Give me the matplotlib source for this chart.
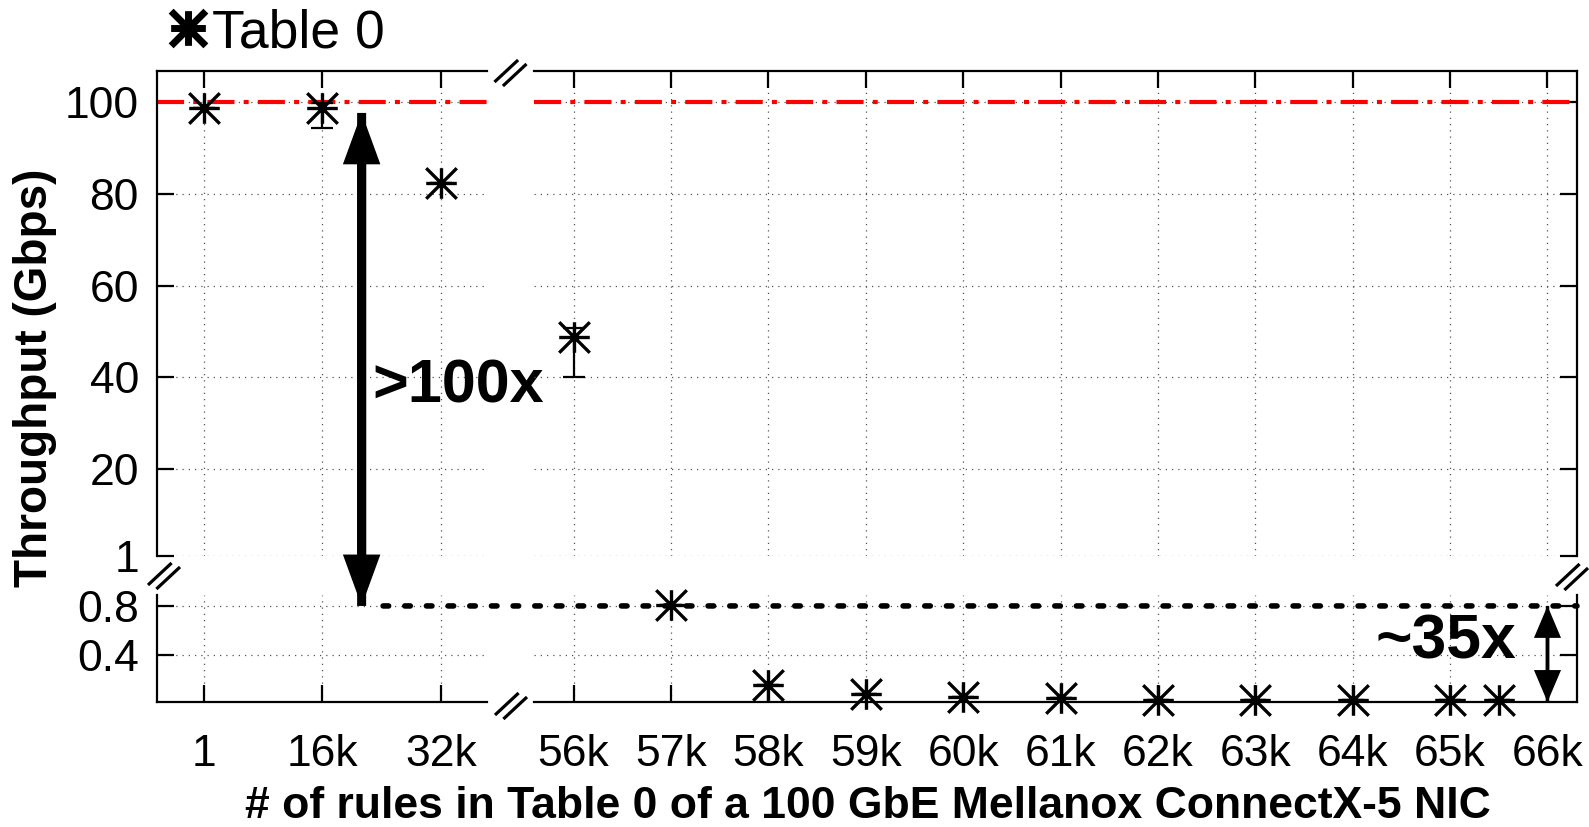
import numpy as np
import matplotlib
matplotlib.use('Agg')
import matplotlib.pyplot as plt
from matplotlib.path import Path
from matplotlib.patches import ConnectionPatch, ArrowStyle
from matplotlib.lines import Line2D

plt.rcParams['font.family'] = ['Liberation Sans', 'DejaVu Sans']

# ---------------- data (x in thousands of rules) ----------------
left_x = [0.001, 16, 32]
left_ticklabels = ['1', '16k', '32k']
left_y = [98.8, 98.8, 82.3]
left_err_lo = [0.0, 4.4, 0.0]
left_err_hi = [0.0, 1.0, 0.0]

right_x = [56, 57, 58, 59, 60, 61, 62, 63, 64, 65, 65.5]
right_y = [48.7, 0.81, 0.15, 0.078, 0.054, 0.043, 0.03, 0.025, 0.023, 0.023, 0.023]
right_err_lo = [8.7, 0, 0, 0, 0, 0, 0, 0, 0, 0, 0]
right_err_hi = [2.0, 0, 0, 0, 0, 0, 0, 0, 0, 0, 0]
right_ticks = [56, 57, 58, 59, 60, 61, 62, 63, 64, 65, 66]
right_ticklabels = ['56k', '57k', '58k', '59k', '60k', '61k', '62k', '63k',
                    '64k', '65k', '66k']

upper_yticks = [1, 20, 40, 60, 80, 100]
lower_yticks = [0.4, 0.8]
line_rate = 100
knee_level = 0.8

# ---------------- figure / axes layout ----------------
W, H = 1589, 827
fig = plt.figure(figsize=(W / 100, H / 100), dpi=100)


def rect(x0, x1, ytop, ybot):
    return [x0 / W, 1 - ybot / H, (x1 - x0) / W, (ybot - ytop) / H]


ax_ul = fig.add_axes(rect(157, 487, 71, 556))
ax_ur = fig.add_axes(rect(534, 1577, 71, 556))
ax_ll = fig.add_axes(rect(157, 487, 595, 702))
ax_lr = fig.add_axes(rect(534, 1577, 595, 702))

LX = (-6.35, 38.24)
RX = (55.593, 66.303)
UY = (1, 106.85)
LY = (0.01, 0.89)

for ax, xl, yl in [(ax_ul, LX, UY), (ax_ur, RX, UY), (ax_ll, LX, LY), (ax_lr, RX, LY)]:
    ax.set_xlim(*xl)
    ax.set_ylim(*yl)
    ax.patch.set_visible(False)
    for s in ax.spines.values():
        s.set_linewidth(1.6)
    ax.grid(True, linestyle=(0, (1, 4)), linewidth=0.9, color='#555555')
    ax.set_axisbelow(True)
    ax.tick_params(direction='in', length=12, width=1.6, labelsize=32)
    ax.tick_params(axis='x', pad=23)
    ax.tick_params(axis='y', pad=13)

for ax in (ax_ul, ax_ll):
    ax.set_xticks(left_x)
    ax.set_xticklabels(left_ticklabels)
for ax in (ax_ur, ax_lr):
    ax.set_xticks(right_ticks)
    ax.set_xticklabels(right_ticklabels)
for ax in (ax_ul, ax_ur):
    ax.set_yticks(upper_yticks)
    ax.set_yticklabels([str(v) for v in upper_yticks])
for ax in (ax_ll, ax_lr):
    ax.set_yticks(lower_yticks)
    ax.set_yticklabels([str(v) for v in lower_yticks])

# spines and ticks per panel
ax_ul.spines[['right', 'bottom']].set_visible(False)
ax_ul.tick_params(axis='x', top=True, bottom=False, labelbottom=False)
ax_ul.tick_params(axis='y', left=True, right=False, labelleft=True)

ax_ur.spines[['left', 'bottom']].set_visible(False)
ax_ur.tick_params(axis='x', top=True, bottom=False, labelbottom=False)
ax_ur.tick_params(axis='y', left=False, right=True, labelleft=False)

ax_ll.spines[['right', 'top']].set_visible(False)
ax_ll.tick_params(axis='x', top=False, bottom=True, labelbottom=True)
ax_ll.tick_params(axis='y', left=True, right=False, labelleft=True)

ax_lr.spines[['left', 'top']].set_visible(False)
ax_lr.tick_params(axis='x', top=False, bottom=True, labelbottom=True)
ax_lr.tick_params(axis='y', left=False, right=True, labelleft=False)

# ---------------- marker ----------------
star = Path([(-1, 0), (1, 0), (0, -1), (0, 1), (-1, -1), (1, 1), (-1, 1), (1, -1)],
            [Path.MOVETO, Path.LINETO] * 4)
mk = dict(marker=star, ms=22, mew=2.4, color='black', ls='none')

# line-rate reference
dash_red = dict(color='red', lw=3.0, dashes=(6.5, 2.2, 1.2, 2.2))
ax_ul.axhline(line_rate, **dash_red, zorder=1.5)
ax_ur.axhline(line_rate, **dash_red, zorder=1.5)

# ---------------- data points ----------------
lx = np.array(left_x); ly = np.array(left_y)
rx = np.array(right_x); ry = np.array(right_y)
lel = np.array(left_err_lo); leh = np.array(left_err_hi)
rel = np.array(right_err_lo); reh = np.array(right_err_hi)

for ax, xs, ys, el, eh, upper in [(ax_ul, lx, ly, lel, leh, True), (ax_ur, rx, ry, rel, reh, True),
                                   (ax_ll, lx, ly, lel, leh, False), (ax_lr, rx, ry, rel, reh, False)]:
    m = ys >= 1 if upper else ys < 1
    if not m.any():
        continue
    ax.errorbar(xs[m], ys[m], yerr=[el[m], eh[m]], fmt='none', ecolor='black',
                elinewidth=1.6, capsize=8, capthick=1.6, zorder=3, clip_on=False)
    ax.plot(xs[m], ys[m], zorder=4, clip_on=False, **mk)

# ---------------- dotted knee line at 0.8 ----------------
knee = ConnectionPatch(xyA=(24.2, knee_level), coordsA='data', axesA=ax_ll,
                       xyB=(RX[1], knee_level), coordsB='data', axesB=ax_lr,
                       arrowstyle='-', color='black', lw=4.0,
                       linestyle=(0, (1, 2.9)), zorder=5)
fig.add_artist(knee)

# ---------------- big double arrow (>100x) ----------------
big_style = ArrowStyle.Simple(head_length=37, head_width=27, tail_width=6.5)
for (pA, axA), (pB, axB) in [(((21.3, knee_level), ax_ll), ((21.3, 97.7), ax_ul)),
                             (((21.3, 97.7), ax_ul), ((21.3, knee_level), ax_ll))]:
    c = ConnectionPatch(xyA=pA, coordsA='data', axesA=axA, xyB=pB, coordsB='data', axesB=axB,
                        arrowstyle=big_style, mutation_scale=1, fc='black', ec='black', lw=0,
                        zorder=6)
    fig.add_artist(c)

ax_ul.text(22.8, 34.4, '>100x', fontsize=44, fontweight='bold', ha='left', va='baseline',
           zorder=7)

# ---------------- small double arrow (~35x) ----------------
small_style = ArrowStyle.Simple(head_length=23, head_width=19.5, tail_width=2.5)
for yA, yB in [(knee_level, LY[0]), (LY[0], knee_level)]:
    c = ConnectionPatch(xyA=(66, yA), coordsA='data', axesA=ax_lr, xyB=(66, yB), coordsB='data',
                        axesB=ax_lr, arrowstyle=small_style, mutation_scale=1, fc='black',
                        ec='black', lw=0, zorder=6)
    fig.add_artist(c)

ax_lr.text(65.68, 0.37, '~35x', fontsize=45, fontweight='bold', ha='right', va='baseline', zorder=7)

# ---------------- break marks ----------------
def break_mark(cx, cy):
    for dx, dy in [(-4.2, -2.0), (4.2, 2.0)]:
        x0, y0 = cx + dx - 11.8, cy + dy + 11.0
        x1, y1 = cx + dx + 11.8, cy + dy - 11.0
        fig.add_artist(Line2D([x0 / W, x1 / W], [1 - y0 / H, 1 - y1 / H], color='black', lw=2.3,
                              transform=fig.transFigure, solid_capstyle='butt'))


break_mark(510.5, 73)
break_mark(511, 706)
break_mark(164, 576)
break_mark(1572, 577)

# ---------------- labels & legend ----------------
fig.text(35.5 / W, 1 - 378 / H, 'Throughput (Gbps)', rotation=90, fontsize=33, fontweight='bold',
         ha='center', va='center')
fig.text(867.5 / W, 1 - 818 / H, '# of rules in Table 0 of a 100 GbE Mellanox ConnectX-5 NIC',
         fontsize=32, fontweight='bold', ha='center', va='baseline')

handle = Line2D([], [], marker=star, ms=25, mew=5, color='black', ls='none')
fig.legend([handle], ['Table 0'], loc='center left', bbox_to_anchor=(169.5 / W, 1 - 33 / H),
           frameon=False, fontsize=38.5, handlelength=0.7, handletextpad=0.1, borderpad=0,
           borderaxespad=0)

fig.savefig('out.png', dpi=100)
